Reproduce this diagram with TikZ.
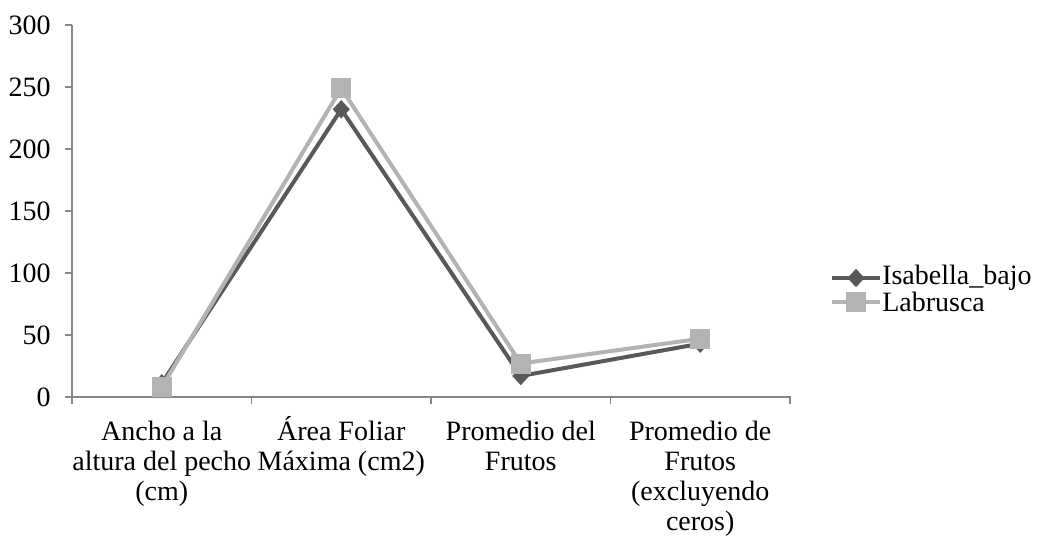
\documentclass[tikz,border=0pt]{standalone}
\usepackage{fontspec}
\setmainfont{Liberation Serif}
\usetikzlibrary{shapes.geometric}
\definecolor{axisgray}{HTML}{868686}
\definecolor{isagray}{HTML}{595959}
\definecolor{labgray}{HTML}{B3B3B3}
\def\catsep{179.5}
\newcommand{\firstline}{\rule{0pt}{19pt}}

\begin{document}
\begin{tikzpicture}[x=0.75pt,y=-0.75pt,font=\fontsize{21}{22.5}\selectfont]
    \tikzstyle{axis}=[draw=axisgray,line width=0.8pt]
    \tikzstyle{isaline}=[draw=isagray,line width=3pt,line join=round]
    \tikzstyle{labline}=[draw=labgray,line width=3pt,line join=round]
    \tikzstyle{isamark}=[diamond,fill=isagray,minimum width=13pt,minimum height=14pt,inner sep=0pt]
    \tikzstyle{labmark}=[rectangle,fill=labgray,minimum size=15pt,inner sep=0pt]
    \tikzstyle{catlabel}=[anchor=north,align=center,inner sep=0pt]
    \tikzstyle{ticklabel}=[anchor=east,inner sep=0pt]
    \useasboundingbox (0,0) rectangle (1042,537);

    % Axes
    \coordinate (O) at (72,397);
    \coordinate (T) at (72,25);
    \coordinate (R) at (791,397);
    \draw[axis] (T) -- (O) -- (R);

    % Value axis ticks and labels
    \foreach \v [count=\i from 0] in {0,50,...,300}
    {
        \draw[axis] (65,397-1.24*\v) -- (72,397-1.24*\v);
        \node[ticklabel] (Y-\i) at (51,397-1.24*\v) {\v};
    }

    % Category ticks
    \foreach \k in {0,...,4}
        \draw[axis] (72+\catsep*\k,397) -- (72+\catsep*\k,404);

    % Category labels
    \node[catlabel] (C-1) at (72+0.5*\catsep,415) {\firstline Ancho a la\\altura del pecho\\(cm)};
    \node[catlabel] (C-2) at (72+1.5*\catsep,415) {\firstline Área Foliar\\Máxima (cm2)};
    \node[catlabel] (C-3) at (72+2.5*\catsep,415) {\firstline Promedio del\\Frutos};
    \node[catlabel] (C-4) at (72+3.5*\catsep,415) {\firstline Promedio de\\Frutos\\(excluyendo\\ceros)};

    % Data points
    \foreach \v [count=\i] in {11,232,17,43}
        \coordinate (I-\i) at (72+\catsep*\i-0.5*\catsep,397-1.24*\v);
    \foreach \v [count=\i] in {8,249,27,47}
        \coordinate (L-\i) at (72+\catsep*\i-0.5*\catsep,397-1.24*\v);

    % Isabella_bajo series
    \draw[isaline] (I-1) -- (I-2) -- (I-3) -- (I-4);
    \foreach \i in {1,...,4}
        \node[isamark] at (I-\i) {};

    % Labrusca series
    \draw[labline] (L-1) -- (L-2) -- (L-3) -- (L-4);
    \foreach \i in {1,...,4}
        \node[labmark] at (L-\i) {};

    % Legend
    \coordinate (LI-a) at (832,278);
    \coordinate (LI-b) at (880,278);
    \coordinate (LL-a) at (832,302);
    \coordinate (LL-b) at (880,302);
    \draw[isaline] (LI-a) -- (LI-b);
    \node[isamark] (LI) at (856,278) {};
    \node[anchor=west,inner sep=0pt] (isa) at (882,278) {Isabella\_bajo};
    \draw[labline] (LL-a) -- (LL-b);
    \node[labmark] (LL) at (856,302) {};
    \node[anchor=west,inner sep=0pt] (lab) at (882,302) {Labrusca};
\end{tikzpicture}
\end{document}
